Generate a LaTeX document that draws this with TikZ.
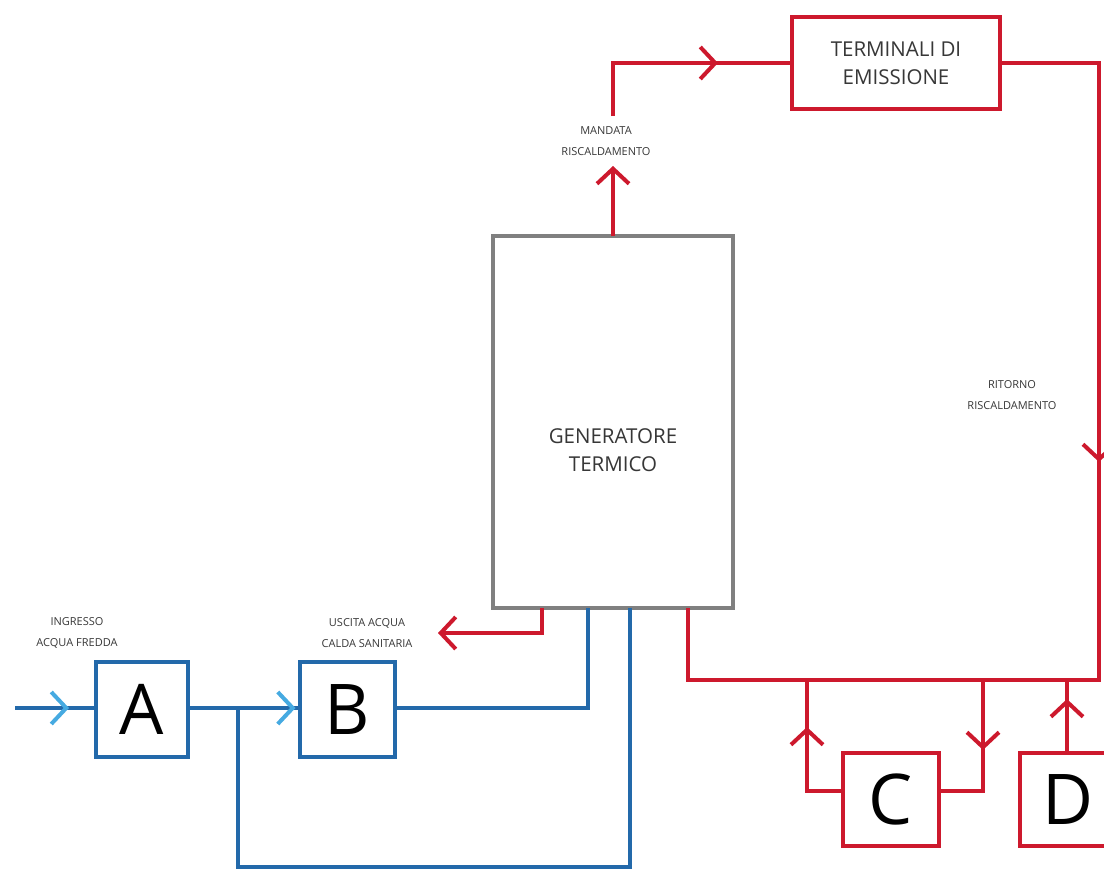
\documentclass[tikz,border=0pt]{standalone}
\usepackage{fontspec}
\setmainfont{Open Sans}
\usetikzlibrary{arrows.meta,decorations.markings}
\definecolor{hred}{RGB}{205,25,45}
\definecolor{hblue}{RGB}{35,105,170}
\definecolor{lblue}{RGB}{70,170,225}
\definecolor{ggray}{RGB}{128,128,128}
\definecolor{tgray}{RGB}{55,55,55}
\tikzset{
  tip/.tip={Straight Barb[length=15pt,width=32pt]},
  rline/.style={draw=hred,line width=4pt},
  bline/.style={draw=hblue,line width=4pt},
  rbox/.style={rline,fill=white,inner sep=0pt},
  bbox/.style={bline,fill=white,inner sep=0pt},
  gbox/.style={draw=ggray,line width=4pt,fill=white,inner sep=0pt},
  letter/.style={font=\fontsize{70}{70}\selectfont,text=black},
  small/.style={font=\fontsize{11}{21}\selectfont,text=tgray,align=center},
  big/.style={font=\fontsize{20.5}{28}\selectfont,text=tgray,align=center},
  marr/.style={postaction={decorate},decoration={markings,mark=at position #1 with {\arrow[line width=4pt]{tip}}}},
  marrb/.style={postaction={decorate},decoration={markings,mark=at position #1 with {\arrow[lblue,line width=4pt]{tip}}}},
}
\begin{document}
\begin{tikzpicture}[x=1pt,y=-1pt]
\useasboundingbox (0,0) rectangle (1104,870);
\clip (0,0) rectangle (1104,870);
% nodes
\node[gbox,minimum width=240pt,minimum height=372pt] (gen) at (613,422) {};
\node[big] (gentxt) at (613,450) {GENERATORE\\TERMICO};
\node[rbox,minimum width=208pt,minimum height=92pt,big] (term) at (896,63) {TERMINALI DI\\EMISSIONE};
\node[bbox,minimum width=92pt,minimum height=95pt,letter] (A) at (141.5,709.5) {A};
\node[bbox,minimum width=95pt,minimum height=95pt,letter] (B) at (347.5,709.5) {B};
\node[rbox,minimum width=96pt,minimum height=93pt,letter] (C) at (891,799.5) {C};
\node[rbox,minimum width=96pt,minimum height=93pt,letter] (D) at (1068,799.5) {D};
% labels
\node[small] (l1) at (77,633) {INGRESSO\\ACQUA FREDDA};
\node[small] (l2) at (367,633) {USCITA ACQUA\\CALDA SANITARIA};
\node[small] (l3) at (606,141) {MANDATA\\RISCALDAMENTO};
\node[small] (l4) at (1012,395) {RITORNO\\RISCALDAMENTO};
% coordinates
\coordinate (in) at (15,708);
\coordinate (j) at (238,708);
\coordinate (gb1) at (542,608);
\coordinate (gb2) at (588,608);
\coordinate (gb3) at (630,608);
\coordinate (gb4) at (688,608);
\coordinate (gt) at (613,236);
\coordinate (mt) at (613,166);
\coordinate (ms) at (613,116);
\coordinate (hw) at (438,633);
\coordinate (re) at (1099,63);
\coordinate (rb) at (1099,680);
\coordinate (ctop1) at (807,680);
\coordinate (ctop2) at (983,680);
\coordinate (dtop) at (1067,680);
% blue pipes
\draw[bline,marrb=54pt] (in) -- (in -| A.west);
\draw[bline,marrb=106pt] (A.east |- in) -- (B.west |- in);
\draw[bline] (B.east |- in) -- (gb2 |- in) -- (gb2);
\draw[bline] (j) -- (238,867) -- (630,867) -- (gb3);
% red pipes
\draw[rline,-tip] (gt) -- (mt);
\draw[rline,marr=158pt] (ms) -- (ms |- term.west) -- (term.west);
\draw[rline,marr=496pt] (term.east) -- (re) -- (rb) -- (gb4 |- rb) -- (gb4);
\draw[rline,-tip] (gb1) -- (gb1 |- hw) -- (hw);
\draw[rline,marr=98pt] (C.west |- 0,791) -- (ctop1 |- 0,791) -- (ctop1);
\draw[rline,marr=70pt] (ctop2) -- (ctop2 |- 0,791) -- (C.east |- 0,791);
\draw[rline,marr=52pt] (D.north -| dtop) -- (dtop);
\end{tikzpicture}
\end{document}
